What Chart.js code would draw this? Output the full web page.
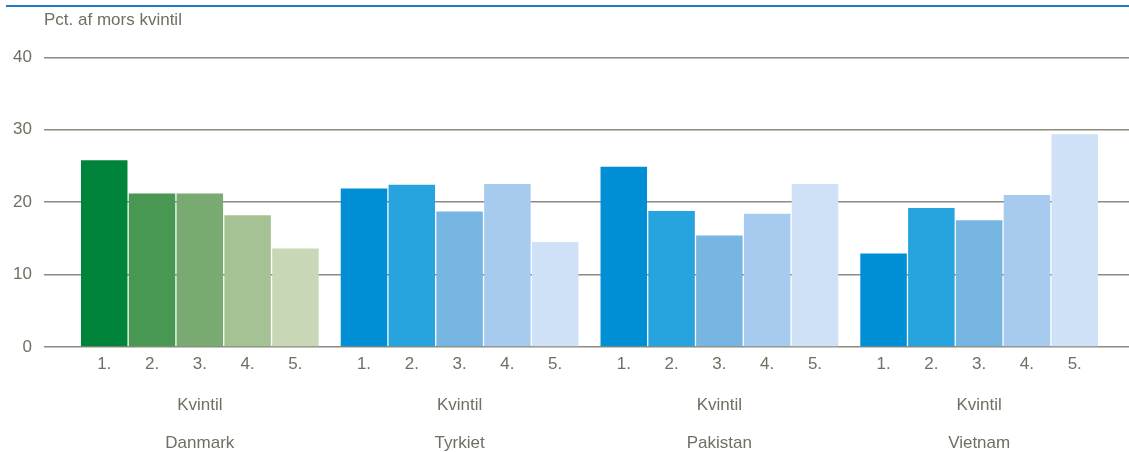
<!DOCTYPE html>
<html>
<head>
<meta charset="utf-8">
<script src="https://cdn.jsdelivr.net/npm/chart.js@4/dist/chart.umd.min.js"></script>
<style>
  html, body { margin: 0; padding: 0; background: #ffffff; }
  #wrap { position: relative; width: 1129px; height: 452px; }
  #topline { position: absolute; top: 5px; left: 6px; right: 0; height: 2px; background: #1c7bc8; }
  canvas { position: absolute; left: 0; top: 0; }
</style>
</head>
<body>
<div id="wrap">
  <canvas id="c" width="1129" height="452"></canvas>
  <div id="topline"></div>
</div>
<script>
// ---- data ----
const countries = ['Danmark', 'Tyrkiet', 'Pakistan', 'Vietnam'];
const quintiles = ['1.', '2.', '3.', '4.', '5.'];
const groupWord = 'Kvintil';
const danmark  = [25.8, 21.2, 21.2, 18.2, 13.6];
const tyrkiet  = [21.9, 22.4, 18.7, 22.5, 14.5];
const pakistan = [24.9, 18.8, 15.4, 18.4, 22.5];
const vietnam  = [12.9, 19.2, 17.5, 21.0, 29.4];
const yTicks = [0, 10, 20, 30, 40];
const yTitle = 'Pct. af mors kvintil';

// ---- styling ----
const greens = ['#00843b', '#489853', '#79aa71', '#a5c295', '#c8d8b7'];
const blues  = ['#008fd4', '#27a3dd', '#77b5e3', '#a6cbef', '#cfe1f6'];
const palettes = [greens, blues, blues, blues];
const textColor = '#6f6f63';
const gridColor = '#8b8b7f';
const FONT = 'Liberation Sans, Arial, sans-serif';

// layout along x: bars one unit apart, groups separated by a gap
const GROUP_PITCH = 5.435;
const X_MIN = -1.26, X_MAX = 21.44;

const seriesValues = [danmark, tyrkiet, pakistan, vietnam];
const points = [];
const colors = [];
const barPositions = [];
seriesValues.forEach((vals, g) => {
  vals.forEach((v, i) => {
    const x = g * GROUP_PITCH + i;
    points.push({ x: x, y: v });
    colors.push(palettes[g][i]);
    barPositions.push(x);
  });
});
const groupCenters = countries.map((c, g) => g * GROUP_PITCH + (quintiles.length - 1) / 2);

new Chart(document.getElementById('c'), {
  type: 'bar',
  data: {
    datasets: [{
      data: points,
      backgroundColor: colors,
      borderWidth: 0,
      barPercentage: 0.973,
      categoryPercentage: 1.0
    }]
  },
  options: {
    responsive: false,
    animation: false,
    devicePixelRatio: 1,
    layout: { padding: 0 },
    plugins: {
      legend: { display: false },
      tooltip: { enabled: false },
      title: {
        display: true,
        text: yTitle,
        align: 'start',
        fullSize: false,
        color: textColor,
        font: { family: FONT, size: 17, weight: 'normal', lineHeight: 1.2 },
        padding: { top: 10, bottom: 27 }
      }
    },
    scales: {
      x: {
        type: 'linear',
        position: 'bottom',
        offset: false,
        bounds: 'data',
        min: X_MIN,
        max: X_MAX,
        grid: { display: false, drawTicks: false, offset: false },
        border: { display: false },
        afterBuildTicks: (scale) => { scale.ticks = barPositions.map(v => ({ value: v })); },
        afterFit: (scale) => { scale.height = 27; },
        ticks: {
          autoSkip: false,
          maxRotation: 0,
          padding: 7,
          color: textColor,
          font: { family: FONT, size: 17, lineHeight: 1.2 },
          callback: (value, index) => quintiles[index % quintiles.length]
        }
      },
      x2: {
        type: 'linear',
        position: 'bottom',
        offset: false,
        bounds: 'data',
        min: X_MIN,
        max: X_MAX,
        grid: { display: false, drawTicks: false },
        border: { display: false },
        afterBuildTicks: (scale) => { scale.ticks = groupCenters.map(v => ({ value: v })); },
        afterFit: (scale) => { scale.height = 78; },
        ticks: {
          autoSkip: false,
          maxRotation: 0,
          padding: 12,
          color: textColor,
          font: { family: FONT, size: 17, lineHeight: 38 / 17 },
          callback: (value, index) => [groupWord, countries[index]]
        }
      },
      y: {
        min: 0,
        max: 40,
        afterBuildTicks: (scale) => { scale.ticks = yTicks.map(v => ({ value: v })); },
        afterFit: (scale) => { scale.width = 44; },
        grid: { color: gridColor, lineWidth: 1.5, drawTicks: false },
        border: { display: false },
        ticks: {
          padding: 12,
          color: textColor,
          font: { family: FONT, size: 17 }
        }
      }
    }
  }
});
</script>
</body>
</html>
